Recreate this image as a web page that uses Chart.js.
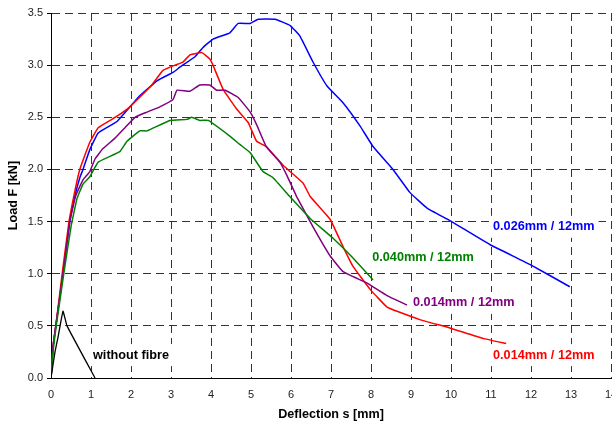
<!DOCTYPE html>
<html>
<head>
<meta charset="utf-8">
<script src="https://cdn.jsdelivr.net/npm/chart.js@4.4.1/dist/chart.umd.min.js"></script>
<style>
  html, body { margin: 0; padding: 0; background: #fff; overflow: hidden; }
  #wrap { width: 640px; height: 424px; }
</style>
</head>
<body>
<div id="wrap"><canvas id="chart_load" width="640" height="424"></canvas></div>
<script>
// deflection s [mm] / load F [kN]
const blueX = [0, 0.05, 0.12, 0.3, 0.47, 0.6, 0.72, 0.8, 0.97, 1.18, 1.65, 2.2, 2.65, 3.05, 3.22, 3.6, 3.8, 4.05, 4.47, 4.68, 4.98, 5.18, 5.6, 5.98, 6.22, 6.55, 6.9, 7.3, 7.72, 8.05, 8.55, 8.97, 9.4, 9.97, 10.97, 11.97, 12.97];
const blueY = [0, 0.3, 0.5, 1.0, 1.5, 1.75, 1.92, 2.0, 2.19, 2.35, 2.46, 2.7, 2.85, 2.93, 2.98, 3.08, 3.17, 3.25, 3.31, 3.4, 3.4, 3.44, 3.44, 3.38, 3.28, 3.03, 2.8, 2.64, 2.42, 2.22, 2.0, 1.78, 1.63, 1.51, 1.28, 1.09, 0.875];

const redX = [0, 0.05, 0.12, 0.28, 0.45, 0.6, 0.72, 0.97, 1.18, 1.65, 1.97, 2.5, 2.8, 3.1, 3.3, 3.48, 3.77, 3.97, 4.05, 4.3, 4.64, 4.93, 5.14, 5.38, 5.8, 6.3, 6.48, 6.98, 7.3, 7.55, 7.98, 8.4, 8.72, 9.22, 9.97, 10.8, 11.38];
const redY = [0, 0.3, 0.5, 1.0, 1.5, 1.8, 2.0, 2.26, 2.4, 2.51, 2.6, 2.8, 2.95, 3.0, 3.03, 3.1, 3.12, 3.06, 3.0, 2.77, 2.58, 2.45, 2.27, 2.22, 2.04, 1.87, 1.74, 1.52, 1.26, 1.07, 0.85, 0.68, 0.63, 0.56, 0.48, 0.38, 0.33];

const purpleX = [0, 0.05, 0.12, 0.3, 0.47, 0.62, 0.8, 0.97, 1.1, 1.3, 1.6, 1.85, 2.1, 2.4, 2.72, 3.05, 3.15, 3.47, 3.72, 3.97, 4.14, 4.35, 4.68, 4.98, 5.14, 5.38, 5.72, 5.9, 6.14, 6.55, 6.98, 7.3, 7.9, 8.4, 8.9];
const purpleY = [0, 0.3, 0.5, 1.0, 1.5, 1.75, 1.9, 1.98, 2.1, 2.2, 2.3, 2.4, 2.5, 2.55, 2.6, 2.67, 2.76, 2.75, 2.81, 2.81, 2.76, 2.76, 2.69, 2.55, 2.43, 2.22, 2.07, 1.94, 1.74, 1.45, 1.17, 1.02, 0.91, 0.79, 0.7];

const greenX = [0, 0.05, 0.13, 0.32, 0.5, 0.65, 0.8, 0.97, 1.18, 1.72, 1.9, 2.22, 2.4, 2.97, 3.4, 3.52, 3.72, 3.93, 4.47, 4.72, 4.98, 5.3, 5.55, 5.97, 6.48, 7.05, 7.55, 8.05];
const greenY = [0, 0.25, 0.5, 1.0, 1.45, 1.72, 1.86, 1.93, 2.07, 2.17, 2.27, 2.37, 2.37, 2.47, 2.48, 2.5, 2.47, 2.47, 2.32, 2.24, 2.16, 1.98, 1.92, 1.74, 1.53, 1.34, 1.15, 0.94];

const plainX = [0, 0.1, 0.18, 0.3, 0.4, 1.1];
const plainY = [0, 0.25, 0.4, 0.64, 0.5, 0];

// curve labels: text, colour, left x, middle y (data units)
const labelText = ["0.026mm / 12mm", "0.040mm / 12mm", "0.014mm / 12mm", "0.014mm / 12mm", "without fibre"];
const labelColor = ["#0000ff", "#008000", "#800080", "#ff0000", "#000000"];
const labelX = [11.05, 8.03, 9.05, 11.05, 1.05];
const labelY = [1.45, 1.16, 0.72, 0.22, 0.22];

function toPoints(xs, ys) {
  return xs.map((x, i) => ({ x: x, y: ys[i] }));
}

function series(xs, ys, color, width) {
  return {
    data: toPoints(xs, ys),
    borderColor: color,
    borderWidth: width,
    pointRadius: 0,
    tension: 0.1,
    fill: false,
  };
}

// white boxes behind the curve names, like the excel data labels
const curveLabels = {
  id: "curveLabels",
  beforeDatasetsDraw(chart) {
    const { ctx, scales } = chart;
    ctx.save();
    ctx.font = "bold 12.7px Arial, 'Liberation Sans', sans-serif";
    ctx.fillStyle = "#fff";
    labelText.forEach((t, i) => {
      const x = scales.x.getPixelForValue(labelX[i]);
      const y = scales.y.getPixelForValue(labelY[i]);
      const w = ctx.measureText(t).width;
      ctx.fillRect(x - 2, y - 11, w + 6, 22);
    });
    ctx.restore();
  },
  afterDatasetsDraw(chart) {
    const { ctx, scales } = chart;
    ctx.save();
    ctx.font = "bold 12.7px Arial, 'Liberation Sans', sans-serif";
    ctx.textBaseline = "middle";
    ctx.textAlign = "left";
    labelText.forEach((t, i) => {
      ctx.fillStyle = labelColor[i];
      ctx.fillText(t, scales.x.getPixelForValue(labelX[i]), scales.y.getPixelForValue(labelY[i]));
    });
    ctx.restore();
  },
};

const gridDash = [8, 5];

new Chart(document.getElementById("chart_load"), {
  type: "line",
  data: {
    datasets: [
      series(plainX, plainY, "#000000", 1.3),
      series(greenX, greenY, "#008000", 1.5),
      series(purpleX, purpleY, "#800080", 1.5),
      series(redX, redY, "#ff0000", 1.5),
      series(blueX, blueY, "#0000ff", 1.5),
    ],
  },
  options: {
    responsive: false,
    animation: false,
    layout: { padding: { left: 0, right: 29, top: 13, bottom: 0 } },
    plugins: {
      legend: { display: false },
      tooltip: { enabled: false },
    },
    scales: {
      x: {
        type: "linear",
        min: 0,
        max: 14,
        afterFit(scale) { scale.height = 46; },
        ticks: {
          stepSize: 1,
          color: "#222",
          padding: 10,
          font: { family: "Arial, 'Liberation Sans', sans-serif", size: 11 },
        },
        grid: { color: "#333", lineWidth: 1, drawTicks: false },
        border: { display: true, color: "#000", width: 1, dash: gridDash },
        title: {
          display: true,
          text: "Deflection s [mm]",
          color: "#000",
          padding: { top: 0, bottom: 2 },
          font: { family: "Arial, 'Liberation Sans', sans-serif", size: 12.6, weight: "bold", lineHeight: 1.2 },
        },
      },
      y: {
        type: "linear",
        min: 0,
        max: 3.5,
        afterFit(scale) { scale.width = 51; },
        ticks: {
          stepSize: 0.5,
          color: "#222",
          padding: 4,
          callback: (v) => v.toFixed(1),
          font: { family: "Arial, 'Liberation Sans', sans-serif", size: 11 },
        },
        grid: { color: "#333", lineWidth: 1, tickLength: 4, tickColor: "#000", tickBorderDash: [] },
        border: { display: true, color: "#000", width: 1, dash: gridDash },
        title: {
          display: true,
          text: "Load F [kN]",
          color: "#000",
          padding: { top: 6, bottom: 0 },
          font: { family: "Arial, 'Liberation Sans', sans-serif", size: 12.6, weight: "bold", lineHeight: 1.2 },
        },
      },
    },
  },
  plugins: [curveLabels],
});
</script>
</body>
</html>
